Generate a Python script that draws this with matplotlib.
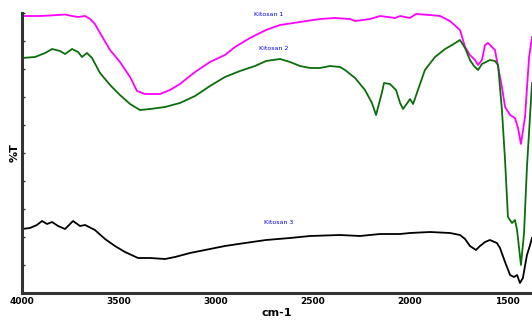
import matplotlib
matplotlib.use("Agg")
import matplotlib.pyplot as plt

# Wavenumber (cm-1) and transmittance (arbitrary %T units)
wn_k1 = [4000, 3907, 3856, 3814, 3778, 3742, 3711, 3675, 3649, 3624, 3598, 3546, 3495, 3443,
         3407, 3366, 3289, 3237, 3186, 3108, 3031, 2954, 2902, 2825, 2742, 2670, 2567, 2464,
         2387, 2309, 2283, 2206, 2154, 2077, 2051, 2000, 1969, 1897, 1845, 1794, 1742, 1716,
         1691, 1665, 1649, 1629, 1613, 1598, 1562, 1526, 1510, 1484, 1459, 1443, 1428, 1407,
         1386, 1371]
t_k1 = [277, 277, 277.5, 278, 278.5, 277, 276, 277, 274, 269, 260, 243, 231, 216,
        202, 199, 199, 203, 209, 221, 231, 238, 246, 255, 263, 268, 271, 274,
        275, 274, 272, 274, 277, 275, 277, 275, 279, 278, 277, 272, 263, 246,
        238, 233, 228, 233, 248, 250, 243, 206, 186, 178, 175, 165, 149, 176,
        236, 256]

wn_k2 = [4000, 3933, 3881, 3845, 3804, 3778, 3742, 3711, 3691, 3665, 3639, 3598, 3546, 3495,
         3443, 3392, 3340, 3263, 3186, 3108, 3031, 2954, 2876, 2799, 2742, 2670, 2618, 2567,
         2515, 2464, 2412, 2361, 2335, 2283, 2232, 2196, 2175, 2144, 2134, 2103, 2072, 2051,
         2036, 2010, 2000, 1984, 1959, 1923, 1871, 1819, 1783, 1742, 1716, 1691, 1670, 1649,
         1629, 1588, 1562, 1546, 1526, 1510, 1495, 1474, 1459, 1448, 1428, 1412, 1397, 1371]
t_k2 = [235, 236, 240, 244, 242, 239, 244, 241, 236, 240, 235, 220, 208, 198,
        189, 183, 184, 186, 190, 197, 207, 216, 222, 227, 232, 234, 231, 227,
        225, 225, 227, 226, 223, 215, 203, 190, 178, 201, 210, 209, 203, 190,
        184, 191, 194, 189, 203, 223, 236, 244, 248, 253, 245, 233, 227, 223,
        229, 233, 232, 228, 183, 133, 76, 70, 73, 63, 28, 60, 126, 210]

wn_k3 = [4000, 3959, 3923, 3897, 3871, 3845, 3814, 3778, 3737, 3701, 3675, 3624, 3572, 3521,
         3469, 3402, 3340, 3263, 3211, 3134, 3031, 2954, 2850, 2742, 2618, 2515, 2361, 2258,
         2154, 2051, 2000, 1897, 1794, 1742, 1716, 1691, 1660, 1639, 1613, 1588, 1552, 1536,
         1510, 1484, 1464, 1448, 1433, 1418, 1397, 1381, 1371]
t_k3 = [64, 65, 68, 72, 69, 71, 67, 64, 72, 67, 68, 63, 54, 47,
        41, 35, 35, 34, 36, 40, 44, 47, 50, 53, 55, 57, 58, 57,
        59, 59, 60, 61, 60, 58, 54, 47, 43, 47, 51, 53, 50, 45,
        31, 18, 16, 18, 10, 15, 38, 48, 55]

labels = ["Kitosan 1", "Kitosan 2", "Kitosan 3"]
xticks = [4000, 3500, 3000, 2500, 2000, 1500]

fig = plt.figure(figsize=(5.32, 3.2), dpi=100)
ax = fig.add_axes([22/532, 27/320, 510/532, 280/320])

ax.plot(wn_k1, t_k1, color="#ff00ff", lw=1.3)
ax.plot(wn_k2, t_k2, color="#0a6e0a", lw=1.3)
ax.plot(wn_k3, t_k3, color="#000000", lw=1.3)

ax.set_xlim(4000, 1371)
ax.set_ylim(0, 280)

ax.text(2730, 279, labels[0], color="#0000ee", fontsize=4.5, ha="center", va="center")
ax.text(2700, 245, labels[1], color="#0000ee", fontsize=4.5, ha="center", va="center")
ax.text(2675, 70, labels[2], color="#0000ee", fontsize=4.5, ha="center", va="center")

for s in ["top", "right"]:
    ax.spines[s].set_visible(False)
for s in ["left", "bottom"]:
    ax.spines[s].set_linewidth(2.2)
    ax.spines[s].set_color("#333333")

ax.set_xticks(xticks)
ax.set_xticklabels([str(v) for v in xticks], fontsize=6.5, fontweight="bold")
ax.tick_params(axis="x", length=0, pad=3)
ax.set_yticks(range(0, 281, 28))
ax.set_yticklabels([])
ax.tick_params(axis="y", direction="in", length=2, width=1, color="#333333")

ax.set_xlabel("cm-1", fontsize=8, fontweight="bold", labelpad=1)
ax.set_ylabel("%T", fontsize=8, fontweight="bold", labelpad=-2)

fig.savefig("out.png", dpi=100)
